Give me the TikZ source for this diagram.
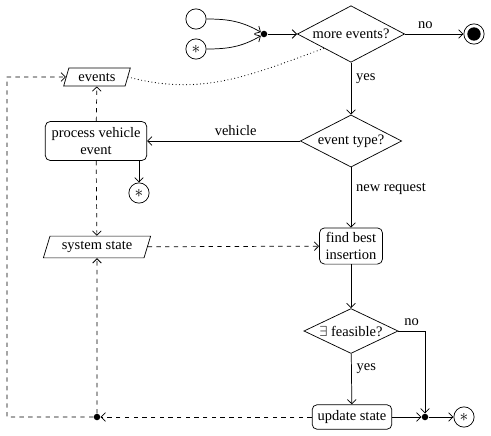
\documentclass[tikz,border=0pt]{standalone}
\usepackage{fontspec}
\setmainfont{Liberation Serif}
\usetikzlibrary{arrows.meta,shapes.geometric,calc}

\begin{document}
\begin{tikzpicture}[
  x=0.69pt,y=-0.69pt,
  line width=0.5pt,
  >={Straight Barb[length=3pt,width=6pt]},
  decision/.style={diamond, draw, aspect=2, inner sep=0pt},
  process/.style={rectangle, draw, rounded corners=3.5pt, align=center, inner sep=1pt},
  datastore/.style={trapezium, draw, trapezium left angle=65, trapezium right angle=115,
    trapezium stretches body, inner sep=1pt},
  terminal/.style={circle, draw, minimum size=14pt, inner sep=0pt},
  junction/.style={circle, fill, inner sep=0pt, minimum size=4.5pt},
  dataflow/.style={->, dashed},
  linkflow/.style={line width=0.8pt, line cap=round, dash pattern=on 0pt off 2.4pt}
]
\path[use as bounding box] (0,0) rectangle (491,436);

% Entry and exit
\node[terminal] (start) at (196,19) {};
\node[terminal] (again) at (196,49) {\large$\ast$};
\node[junction] (join) at (264,34) {};
\node[decision, minimum width=74pt, minimum height=39pt] (more) at (351,34) {more events?};
\node[terminal] (stop) at (474,34) {};
\fill (stop) circle[radius=4.6pt];

% Event dispatch
\node[decision, minimum width=70pt, minimum height=36pt] (type) at (351,141) {event type?};
\node[process, minimum width=70pt, minimum height=27pt] (vehicle) at (96,141) {process vehicle\\event};
\node[terminal] (vdone) at (139,193) {\large$\ast$};

% Data
\node[datastore, minimum width=46pt, minimum height=12.5pt] (events) at (97,77) {events};
\node[datastore, minimum width=74pt, minimum height=15pt] (state) at (97,247) {system state};

% Request handling
\node[process, minimum width=43.5pt, minimum height=25pt] (insert) at (351,246) {find best\\insertion};
\node[decision, minimum width=65pt, minimum height=31pt] (feasible) at (351,331) {$\exists$ feasible?};
\node[process, minimum width=55pt, minimum height=17pt] (update) at (352,417) {update state};
\node[junction] (merge) at (425,417) {};
\node[terminal] (rdone) at (464,417) {\large$\ast$};
\node[junction] (back) at (97,417) {};
\coordinate (edge) at (7,77);

% Control flow
\draw[->] (start) to[out=0, in=150] (join);
\draw[->] (again) to[out=0, in=210] (join);
\draw[->] (join) -- (more);
\draw[->] (more) -- node[pos=0.35, above] {no} (stop);
\draw[->] (more) -- node[pos=0.3, right] {yes} (type);
\draw[->] (type) -- node[pos=0.42, above] {vehicle} (vehicle);
\draw[->] (type) -- node[pos=0.35, right] {new request} (insert);
\draw[->] (vehicle.south -| vdone) -- (vdone);
\draw[->] (insert) -- (feasible);
\draw[->] (feasible) -- node[pos=0.3, right] {yes} (update);
\draw[->] (feasible.east) -| node[pos=0.25, above] {no} (merge);
\draw[->] (update) -- (merge);
\draw[->] (merge) -- (rdone);

% Data flow
\draw[dataflow] (update) -- (back);
\draw[dataflow] (back) -- (state);
\draw[dataflow] (back) -| (edge) -- (events);
\draw[dataflow] (vehicle) -- (events);
\draw[dataflow] (vehicle) -- (state);
\draw[dataflow] (state) -- (insert);
\draw[linkflow] (events.east) to[out=-15, in=200] ($(more.west)!0.5!(more.south)$);

\end{tikzpicture}
\end{document}
